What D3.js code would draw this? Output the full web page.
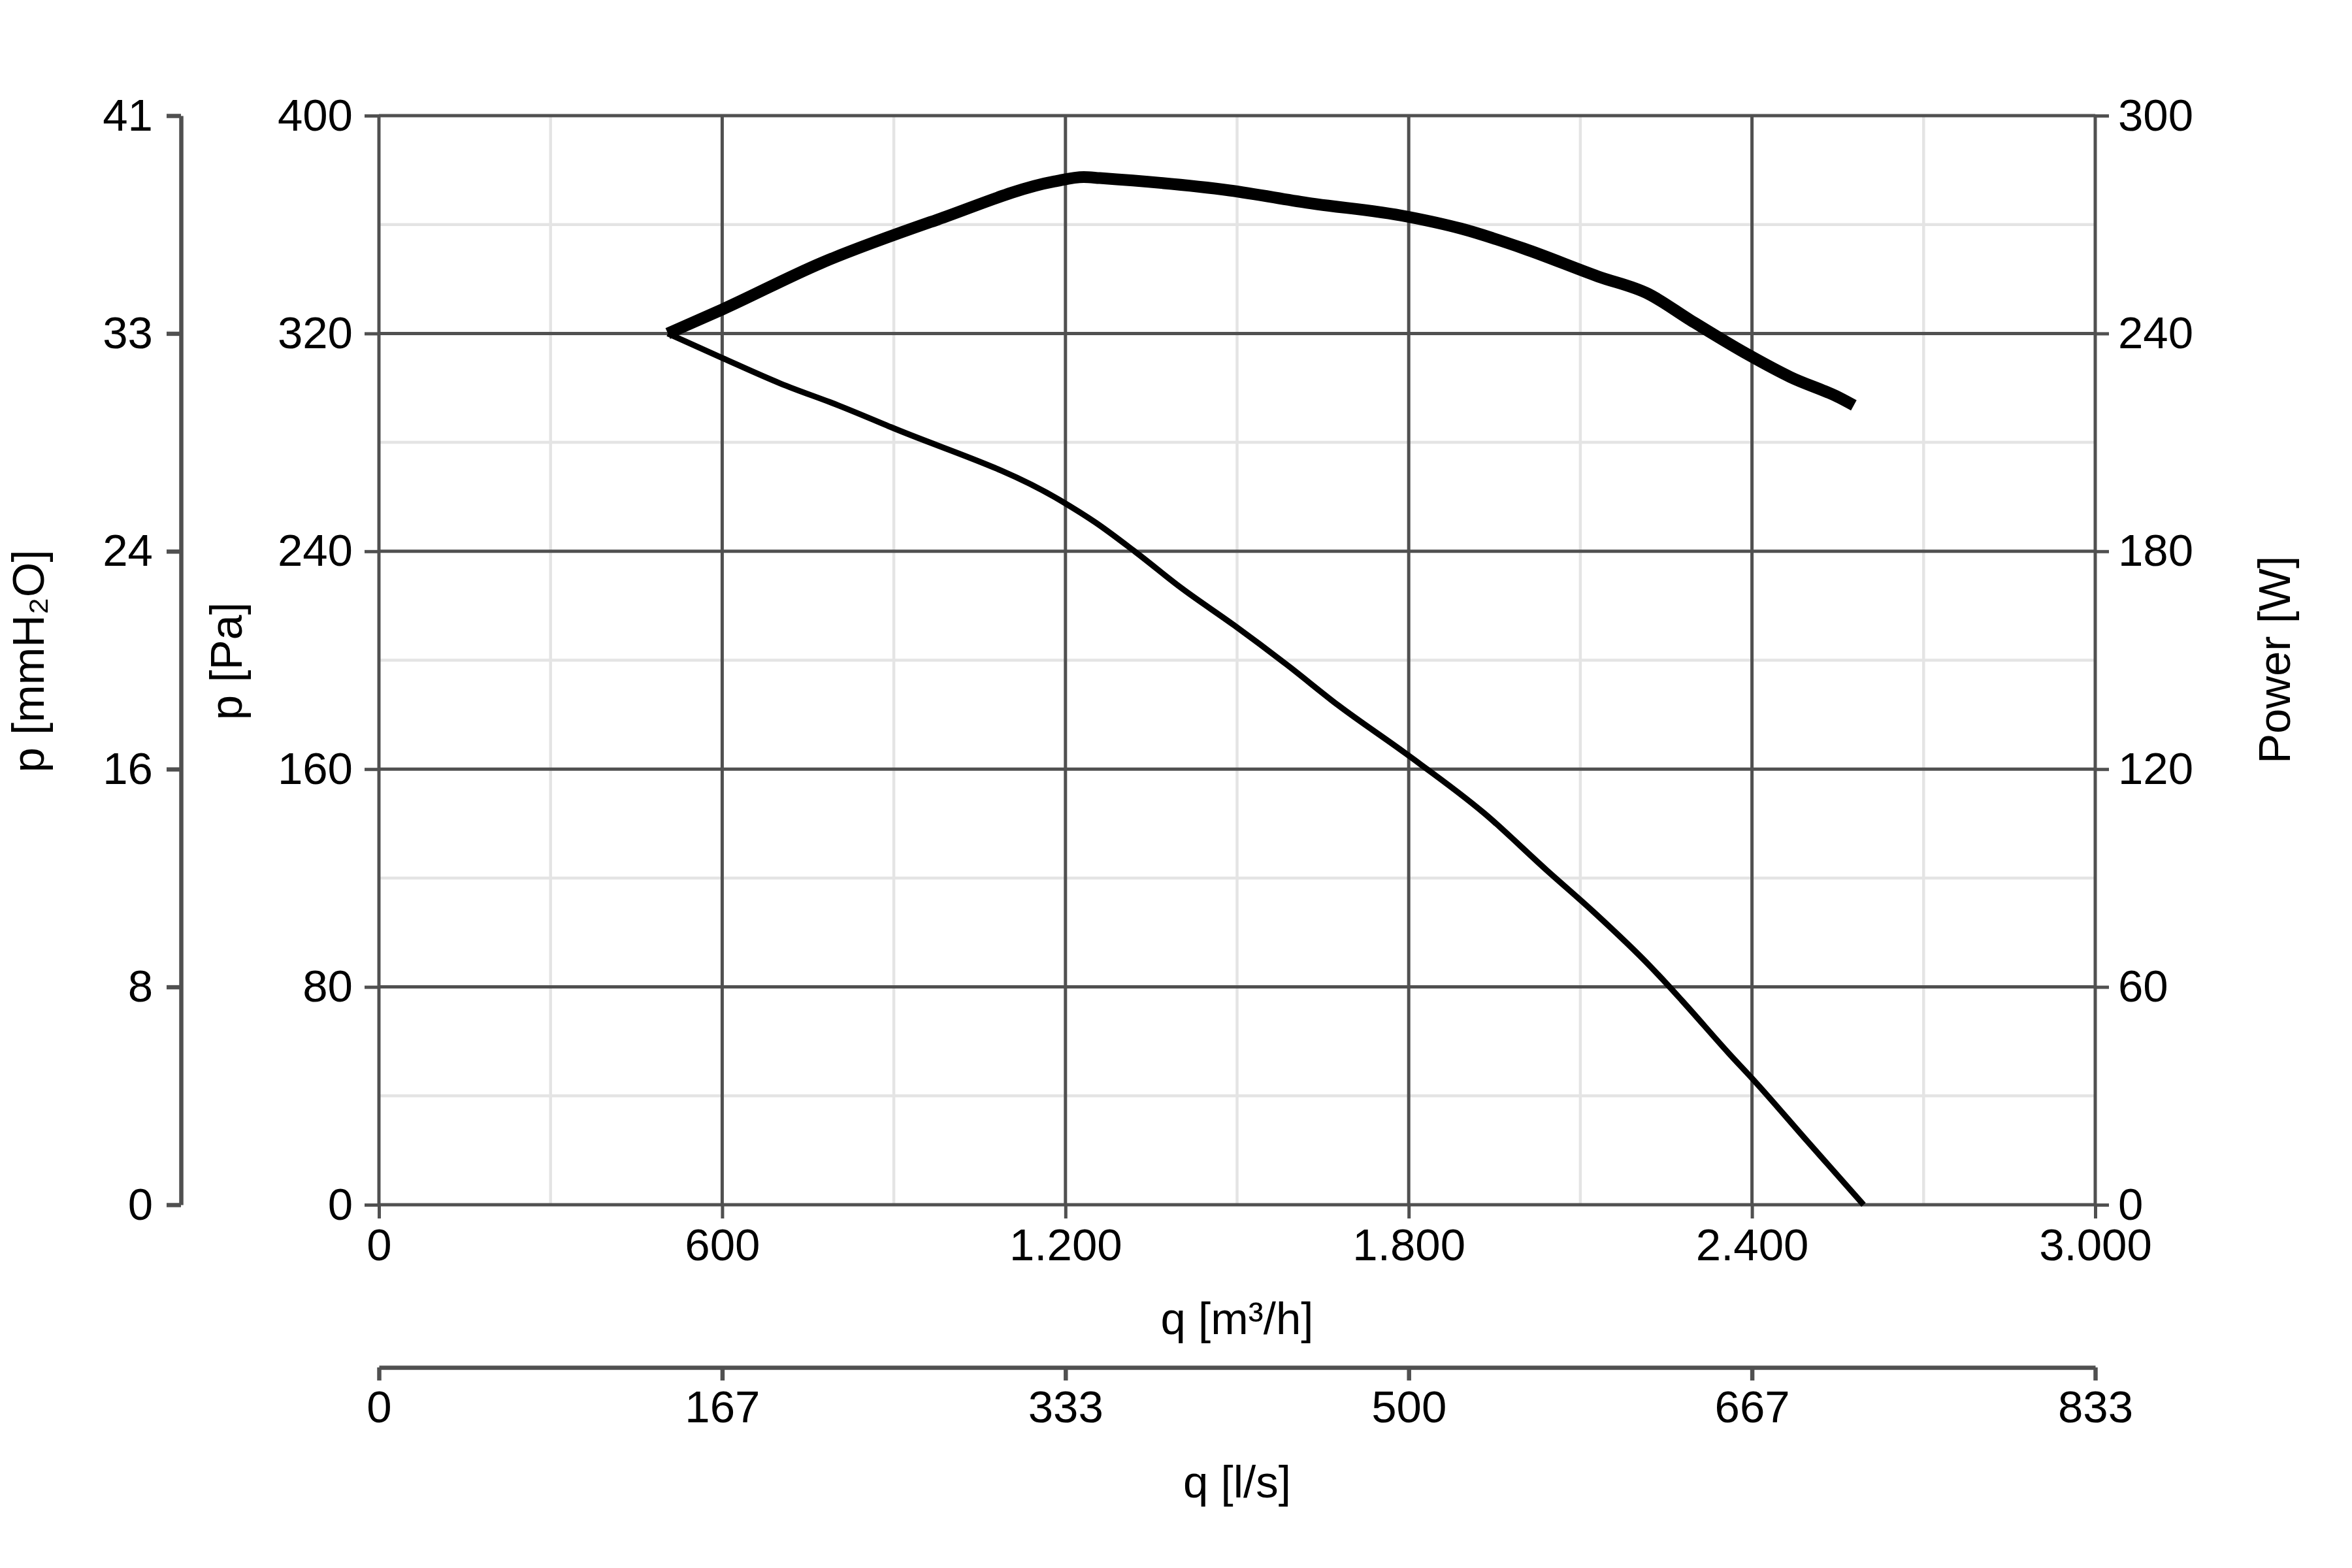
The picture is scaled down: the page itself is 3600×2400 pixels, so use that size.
<!DOCTYPE html>
<html>
<head>
<meta charset="utf-8">
<script src="https://cdn.jsdelivr.net/npm/d3@7"></script>
<style>
  body { margin: 0; background: #fff; }
  text { font-family: "Liberation Sans", Arial, sans-serif; fill: #000; }
</style>
</head>
<body>
<div id="chart"></div>
<script>
// Fan curve: static pressure and power input vs. air flow
const flowTicks = [0, 600, 1200, 1800, 2400, 3000];          // m³/h
const flowMinor = [300, 900, 1500, 2100, 2700];
const paTicks = [0, 80, 160, 240, 320, 400];                 // Pa
const paMinor = [40, 120, 200, 280, 360];
const powerTicks = [0, 60, 120, 180, 240, 300];              // W

// pressure curve (thin)
const pressureFlow = [505, 600, 702, 804, 895, 1191, 1253, 1322, 1404, 1495, 1586, 1677,
                      1795, 1932, 2041, 2123, 2223, 2278, 2360, 2405, 2496, 2595];
const pressurePa   = [320, 311, 301.6, 293.5, 285.6, 258.7, 250.5, 239.8, 226.3, 212.8, 198.5, 183.4,
                      165.7, 143.8, 122.9, 107.6, 87.4, 74.9, 55.5, 45.3, 23.5, 0];

// power curve (thick)
const powerFlow = [505, 600, 773, 977, 1181, 1232, 1260, 1487, 1622, 1797, 1891, 2001,
                   2131, 2219, 2292, 2394, 2467, 2553, 2578];
const powerW    = [240, 246.6, 259.4, 271.4, 281.9, 283.1, 282.8, 279.4, 276.0, 272.2, 268.9, 263.4,
                   255.7, 250.9, 243.7, 234.1, 228.0, 222.3, 220.2];

const width = 3600, height = 2400;
const margin = {top: 177, right: 393, bottom: 556, left: 580};
const w = width - margin.left - margin.right;
const h = height - margin.top - margin.bottom;

const PA_PER_MMH2O = 9.80665;
const M3H_PER_LS = 3.6;

const gridDark = "#505050", gridLight = "#e4e4e4";
const fontSize = 69;

const locale = d3.formatLocale({decimal: ",", thousands: ".", grouping: [3], currency: ["", ""]});
const fmtFlow = locale.format(",");

const x = d3.scaleLinear().domain([0, 3000]).range([0, w]);
const xLs = d3.scaleLinear().domain([0, 3000 / M3H_PER_LS]).range([0, w]);
const y = d3.scaleLinear().domain([0, 400]).range([h, 0]);
const yMm = d3.scaleLinear().domain([0, 400 / PA_PER_MMH2O]).range([h, 0]);
const yW = d3.scaleLinear().domain([0, 300]).range([h, 0]);

const svg = d3.select("#chart")
    .append("svg")
    .attr("width", width)
    .attr("height", height)
    .append("g")
    .attr("transform", `translate(${margin.left},${margin.top})`);

// minor grid
svg.selectAll(".vminor").data(flowMinor).enter().append("line")
    .attr("x1", d => x(d)).attr("x2", d => x(d)).attr("y1", 0).attr("y2", h)
    .attr("stroke", gridLight).attr("stroke-width", 4.5);
svg.selectAll(".hminor").data(paMinor).enter().append("line")
    .attr("y1", d => y(d)).attr("y2", d => y(d)).attr("x1", 0).attr("x2", w)
    .attr("stroke", gridLight).attr("stroke-width", 4.5);

// major grid
svg.selectAll(".vmajor").data(flowTicks).enter().append("line")
    .attr("x1", d => x(d)).attr("x2", d => x(d)).attr("y1", 0).attr("y2", h)
    .attr("stroke", gridDark).attr("stroke-width", 5);
svg.selectAll(".hmajor").data(paTicks).enter().append("line")
    .attr("y1", d => y(d)).attr("y2", d => y(d)).attr("x1", 0).attr("x2", w)
    .attr("stroke", gridDark).attr("stroke-width", 5);

function styleAxis(g, sw) {
    g.selectAll("line").attr("stroke", gridDark).attr("stroke-width", sw);
    g.selectAll("path.domain").attr("stroke", gridDark).attr("stroke-width", sw);
    g.selectAll("text").attr("font-size", fontSize).attr("fill", "#000")
        .style("font-family", '"Liberation Sans", Arial, sans-serif');
}

// primary axes (ticks only, grid forms the frame)
svg.append("g")
    .attr("transform", `translate(0,${h})`)
    .call(d3.axisBottom(x).tickValues(flowTicks).tickFormat(fmtFlow).tickSize(21).tickPadding(15))
    .call(g => g.select(".domain").remove())
    .call(g => styleAxis(g, 5));

svg.append("g")
    .call(d3.axisLeft(y).tickValues(paTicks).tickFormat(d3.format("d")).tickSize(22).tickPadding(18))
    .call(g => g.select(".domain").remove())
    .call(g => styleAxis(g, 5));

svg.append("g")
    .attr("transform", `translate(${w},0)`)
    .call(d3.axisRight(yW).tickValues(powerTicks).tickFormat(d3.format("d")).tickSize(21).tickPadding(14))
    .call(g => g.select(".domain").remove())
    .call(g => styleAxis(g, 5));

// secondary axes
svg.append("g")
    .attr("transform", `translate(${277 - margin.left},0)`)
    .call(d3.axisLeft(yMm).tickValues(paTicks.map(d => d / PA_PER_MMH2O))
        .tickFormat(d3.format(".0f")).tickSize(22).tickSizeOuter(0).tickPadding(21))
    .call(g => styleAxis(g, 6.5));

svg.append("g")
    .attr("transform", `translate(0,${2093 - margin.top})`)
    .call(d3.axisBottom(xLs).tickValues(flowTicks.map(d => d / M3H_PER_LS))
        .tickFormat(d3.format(".0f")).tickSize(20).tickSizeOuter(0).tickPadding(15))
    .call(g => styleAxis(g, 6.5));

// curves
const pressureData = pressureFlow.map((q, i) => ({q: q, v: pressurePa[i]}));
const powerData = powerFlow.map((q, i) => ({q: q, v: powerW[i]}));

svg.append("path")
    .datum(pressureData)
    .attr("fill", "none")
    .attr("stroke", "#000")
    .attr("stroke-width", 9)
    .attr("stroke-linejoin", "round")
    .attr("d", d3.line().x(d => x(d.q)).y(d => y(d.v)).curve(d3.curveMonotoneX));

svg.append("path")
    .datum(powerData)
    .attr("fill", "none")
    .attr("stroke", "#000")
    .attr("stroke-width", 18)
    .attr("stroke-linejoin", "round")
    .attr("d", d3.line().x(d => x(d.q)).y(d => yW(d.v)).curve(d3.curveMonotoneX));

// axis titles
const titles = svg.append("g").attr("font-size", fontSize);

titles.append("text")
    .attr("x", w / 2).attr("y", 2042 - margin.top)
    .attr("text-anchor", "middle")
    .text("q [m³/h]");

titles.append("text")
    .attr("x", w / 2).attr("y", 2292 - margin.top)
    .attr("text-anchor", "middle")
    .text("q [l/s]");

titles.append("text")
    .attr("transform", `translate(${370 - margin.left},${1012 - margin.top}) rotate(-90)`)
    .attr("text-anchor", "middle")
    .text("p [Pa]");

titles.append("text")
    .attr("transform", `translate(${67 - margin.left},${1012 - margin.top}) rotate(-90)`)
    .attr("text-anchor", "middle")
    .text("p [mmH₂O]");

titles.append("text")
    .attr("transform", `translate(${3505 - margin.left},${1010 - margin.top}) rotate(-90)`)
    .attr("text-anchor", "middle")
    .text("Power [W]");
</script>
</body>
</html>
